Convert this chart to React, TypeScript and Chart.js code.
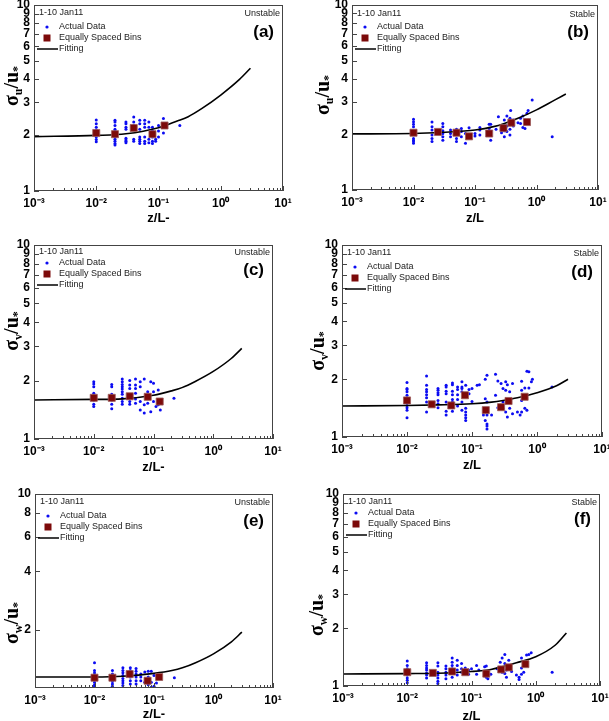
import React, { useEffect, useRef } from 'react';
import { Chart, registerables } from 'chart.js';
Chart.register(...registerables);

const xTickValues = [0.001, 0.01, 0.1, 1, 10];
const xTickLabels = ['10⁻³', '10⁻²', '10⁻¹', '10⁰', '10¹'];
const yTicksFull = [1, 2, 3, 4, 5, 6, 7, 8, 9, 10];
const yTicksEven = [2, 4, 6, 8, 10];
const legendLabels = ['Actual Data', 'Equally Spaced Bins', 'Fitting'];
const periodLabel = '1-10 Jan11';

const fitX = [0.001, 0.01, 0.03, 0.1, 0.2, 0.3, 0.5, 1, 2, 3];

// (a) sigma_u / u*, unstable
const aActual: [number, number[]][] = [
  [0.01, [2.41, 2.30, 2.20, 2.13, 1.95, 1.89, 1.84]],
  [0.02, [2.40, 2.35, 2.25, 2.15, 2.10, 1.95, 1.90, 1.85, 1.80, 1.77]],
  [0.03, [2.35, 2.30, 2.20, 2.15, 1.92, 1.88, 1.85, 1.82]],
  [0.04, [2.50, 2.35, 2.25, 1.90, 1.85]],
  [0.05, [2.40, 2.30, 2.15, 1.95, 1.90, 1.85, 1.80]],
  [0.06, [2.40, 2.30, 2.20, 1.95, 1.85, 1.80]],
  [0.07, [2.35, 2.20, 1.90, 1.82]],
  [0.08, [2.20, 2.10, 1.95, 1.85, 1.80]],
  [0.09, [1.90, 1.85]],
  [0.1, [2.25, 2.10, 1.95]],
  [0.12, [2.45, 2.30, 2.05]],
  [0.22, [2.25]],
];
const aBinsX = [0.01, 0.02, 0.04, 0.08, 0.125];
const aBinsY = [2.05, 2.02, 2.18, 2.02, 2.25];
const aFitY = [1.96, 1.99, 2.03, 2.19, 2.38, 2.51, 2.78, 3.28, 3.98, 4.57];

// (b) sigma_u / u*, stable
const bActual: [number, number[]][] = [
  [0.01, [2.41, 2.34, 2.27, 2.20, 1.90, 1.86, 1.83, 1.79]],
  [0.02, [2.33, 2.20, 2.11, 1.98, 1.90, 1.83]],
  [0.03, [2.29, 2.20, 2.09, 2.02, 1.94, 1.86]],
  [0.04, [2.11, 2.02, 1.94]],
  [0.05, [2.13, 2.07, 1.90, 1.83]],
  [0.06, [2.15, 2.07, 1.94]],
  [0.07, [2.02, 1.79]],
  [0.08, [2.17, 1.93]],
  [0.1, [2.02, 1.96]],
  [0.12, [2.18, 2.11, 1.98]],
  [0.17, [2.27, 2.15, 2.04, 1.98]],
  [0.18, [2.27, 1.86]],
  [0.22, [2.13]],
  [0.24, [2.49]],
  [0.27, [2.11, 2.04]],
  [0.3, [2.39, 2.24, 2.09, 1.94]],
  [0.33, [2.51, 2.22, 2.07]],
  [0.37, [2.44, 2.27, 2.13, 1.98]],
  [0.38, [2.69]],
  [0.42, [2.39, 2.22]],
  [0.5, [2.31]],
  [0.55, [2.44, 2.29]],
  [0.6, [2.51, 2.18]],
  [0.65, [2.39, 2.15]],
  [0.7, [2.60]],
  [0.73, [2.69, 2.39]],
  [0.85, [3.07]],
  [1.8, [1.94]],
];
const bBinsX = [0.01, 0.025, 0.05, 0.08, 0.17, 0.29, 0.39, 0.70];
const bBinsY = [2.04, 2.06, 2.04, 1.95, 2.02, 2.16, 2.31, 2.33];
const bFitY = [2.01, 2.02, 2.05, 2.11, 2.20, 2.29, 2.44, 2.71, 3.07, 3.30];

// (c) sigma_v / u*, unstable
const cActual: [number, number[]][] = [
  [0.01, [1.97, 1.92, 1.86, 1.72, 1.59, 1.51, 1.47]],
  [0.02, [1.91, 1.86, 1.70, 1.59, 1.51, 1.43]],
  [0.03, [2.04, 1.97, 1.91, 1.86, 1.81, 1.75, 1.70, 1.62, 1.56, 1.51]],
  [0.04, [2.00, 1.90, 1.82, 1.56, 1.51]],
  [0.05, [2.04, 1.90, 1.82, 1.72, 1.61, 1.53]],
  [0.06, [1.97, 1.86, 1.56, 1.41]],
  [0.07, [2.04, 1.50, 1.36]],
  [0.08, [1.75, 1.53]],
  [0.09, [1.97, 1.38]],
  [0.1, [1.94, 1.75, 1.56]],
  [0.11, [1.47]],
  [0.12, [1.79, 1.50]],
  [0.13, [1.41]],
  [0.22, [1.62]],
];
const cBinsX = [0.01, 0.02, 0.04, 0.08, 0.127];
const cBinsY = [1.63, 1.63, 1.66, 1.65, 1.56];
const cFitY = [1.59, 1.60, 1.61, 1.68, 1.77, 1.84, 1.98, 2.23, 2.60, 2.93];

// (d) sigma_v / u*, stable
const dActual: [number, number[]][] = [
  [0.01, [1.92, 1.79, 1.77, 1.72, 1.65, 1.52, 1.46, 1.42, 1.38, 1.26]],
  [0.02, [2.08, 1.86, 1.77, 1.72, 1.66, 1.60, 1.52, 1.35]],
  [0.03, [1.79, 1.75, 1.70, 1.66, 1.55, 1.49, 1.42]],
  [0.04, [1.86, 1.82, 1.73, 1.68, 1.52, 1.36, 1.30]],
  [0.05, [1.91, 1.87, 1.73, 1.66, 1.57, 1.52, 1.42, 1.36]],
  [0.06, [1.82, 1.77, 1.66, 1.57, 1.45]],
  [0.07, [1.94, 1.82, 1.79, 1.72, 1.52, 1.38]],
  [0.08, [1.86, 1.41, 1.35, 1.30, 1.26, 1.22]],
  [0.09, [1.77, 1.68]],
  [0.1, [1.79, 1.53]],
  [0.12, [1.86]],
  [0.13, [1.87]],
  [0.15, [1.30]],
  [0.16, [2.00, 1.58, 1.22]],
  [0.17, [2.10, 1.52, 1.30, 1.17, 1.14, 1.10]],
  [0.2, [1.30]],
  [0.23, [2.12, 1.65]],
  [0.25, [1.96, 1.42]],
  [0.28, [1.90]],
  [0.3, [1.79, 1.52, 1.41]],
  [0.33, [1.94, 1.75, 1.35]],
  [0.35, [1.87, 1.27]],
  [0.38, [1.72, 1.41]],
  [0.42, [1.90, 1.32]],
  [0.5, [1.35]],
  [0.55, [1.30]],
  [0.58, [1.95, 1.75, 1.55, 1.35]],
  [0.65, [1.80, 1.41]],
  [0.7, [2.20, 1.38]],
  [0.75, [2.19, 1.80]],
  [0.82, [1.94]],
  [0.85, [2.00]],
  [1.7, [1.82]],
];
const dBinsX = [0.01, 0.024, 0.048, 0.078, 0.163, 0.28, 0.365, 0.645];
const dBinsY = [1.55, 1.48, 1.46, 1.65, 1.38, 1.43, 1.54, 1.62];
const dFitY = [1.45, 1.46, 1.47, 1.49, 1.52, 1.55, 1.60, 1.70, 1.85, 2.00];

// (e) sigma_w / u*, unstable
const eActual: [number, number[]][] = [
  [0.01, [1.35, 1.23, 1.20, 1.16, 1.07, 1.04, 1.02]],
  [0.02, [1.23, 1.18, 1.16, 1.11, 1.08, 1.05, 1.02]],
  [0.03, [1.27, 1.23, 1.20, 1.16, 1.12, 1.09, 1.06, 1.03]],
  [0.04, [1.27, 1.23, 1.17, 1.14, 1.09, 1.05]],
  [0.05, [1.26, 1.22, 1.18, 1.14, 1.09, 1.05]],
  [0.06, [1.18, 1.14, 1.09]],
  [0.07, [1.21, 1.07]],
  [0.08, [1.22, 1.14, 1.04]],
  [0.09, [1.22, 1.07, 1.01]],
  [0.1, [1.16, 1.02]],
  [0.11, [1.06]],
  [0.22, [1.13]],
];
const eBinsX = [0.01, 0.02, 0.039, 0.078, 0.122];
const eBinsY = [1.13, 1.13, 1.18, 1.09, 1.14];
const eFitY = [1.14, 1.14, 1.15, 1.19, 1.23, 1.27, 1.35, 1.50, 1.73, 1.94];

// (f) sigma_w / u*, stable
const fActual: [number, number[]][] = [
  [0.01, [1.35, 1.28, 1.23, 1.14, 1.10, 1.07, 1.04]],
  [0.02, [1.32, 1.28, 1.24, 1.21, 1.17, 1.14, 1.10]],
  [0.03, [1.32, 1.27, 1.18, 1.14, 1.10, 1.06, 1.03]],
  [0.04, [1.27, 1.23, 1.18, 1.14, 1.09]],
  [0.05, [1.40, 1.33, 1.28, 1.23, 1.16, 1.11]],
  [0.06, [1.36, 1.28, 1.21, 1.14]],
  [0.07, [1.31, 1.23, 1.18]],
  [0.08, [1.24, 1.17]],
  [0.09, [1.21, 1.15]],
  [0.1, [1.23]],
  [0.12, [1.28, 1.15]],
  [0.13, [1.21]],
  [0.16, [1.26]],
  [0.17, [1.27, 1.11]],
  [0.18, [1.09]],
  [0.2, [1.15]],
  [0.25, [1.23]],
  [0.28, [1.33, 1.24]],
  [0.3, [1.40, 1.18]],
  [0.33, [1.46, 1.31, 1.16]],
  [0.35, [1.21, 1.11]],
  [0.38, [1.36, 1.28]],
  [0.42, [1.19]],
  [0.5, [1.14]],
  [0.55, [1.11, 1.08]],
  [0.6, [1.40, 1.24, 1.15]],
  [0.65, [1.32, 1.18]],
  [0.72, [1.45]],
  [0.78, [1.46]],
  [0.85, [1.49]],
  [1.8, [1.18]],
];
const fBinsX = [0.01, 0.025, 0.05, 0.08, 0.17, 0.29, 0.38, 0.69];
const fBinsY = [1.18, 1.17, 1.19, 1.18, 1.16, 1.22, 1.25, 1.30];
const fFitY = [1.155, 1.16, 1.165, 1.19, 1.22, 1.26, 1.32, 1.42, 1.63, 1.89];

type PanelSpec = {
  letter: string;
  sub: string;
  stability: string;
  xTitle: string;
  actual: [number, number[]][];
  binsX: number[];
  binsY: number[];
  fitY: number[];
  yTicks: number[];
  // layout
  left: number; top: number; W: number; H: number;
  L: number; R: number; T: number; B: number;
  yTitleX: number; yTitleY: number; xTitleY: number; legendDy: number; periodDy: number;
};

const panels: PanelSpec[] = [
  { letter: 'a', sub: 'u', stability: 'Unstable', xTitle: 'z/L-', actual: aActual, binsX: aBinsX, binsY: aBinsY, fitY: aFitY, yTicks: yTicksFull,
    left: 0, top: 0, W: 305, H: 235, L: 34, R: 283, T: 5, B: 191, yTitleX: 12, yTitleY: 86, xTitleY: 218, legendDy: 0, periodDy: 0 },
  { letter: 'b', sub: 'u', stability: 'Stable', xTitle: 'z/L', actual: bActual, binsX: bBinsX, binsY: bBinsY, fitY: bFitY, yTicks: yTicksFull,
    left: 305, top: 0, W: 304, H: 235, L: 47, R: 293, T: 5, B: 190, yTitleX: 18, yTitleY: 95, xTitleY: 218, legendDy: 0, periodDy: 1 },
  { letter: 'c', sub: 'v', stability: 'Unstable', xTitle: 'z/L-', actual: cActual, binsX: cBinsX, binsY: cBinsY, fitY: cFitY, yTicks: yTicksFull,
    left: 0, top: 235, W: 305, H: 240, L: 34, R: 273, T: 10, B: 204, yTitleX: 12, yTitleY: 96, xTitleY: 232, legendDy: -4, periodDy: -1 },
  { letter: 'd', sub: 'v', stability: 'Stable', xTitle: 'z/L', actual: dActual, binsX: dBinsX, binsY: dBinsY, fitY: dFitY, yTicks: yTicksFull,
    left: 305, top: 235, W: 304, H: 240, L: 37, R: 297, T: 10, B: 202, yTitleX: 13, yTitleY: 116, xTitleY: 230, legendDy: 0, periodDy: 0 },
  { letter: 'e', sub: 'w', stability: 'Unstable', xTitle: 'z/L-', actual: eActual, binsX: eBinsX, binsY: eBinsY, fitY: eFitY, yTicks: yTicksEven,
    left: 0, top: 475, W: 305, H: 246, L: 35, R: 273, T: 19, B: 213, yTitleX: 12, yTitleY: 148, xTitleY: 239, legendDy: 0, periodDy: 0 },
  { letter: 'f', sub: 'w', stability: 'Stable', xTitle: 'z/L', actual: fActual, binsX: fBinsX, binsY: fBinsY, fitY: fFitY, yTicks: yTicksFull,
    left: 305, top: 475, W: 304, H: 246, L: 38, R: 295, T: 19, B: 211, yTitleX: 12, yTitleY: 140, xTitleY: 241, legendDy: -3, periodDy: 0 },
];

const SANS = '"Liberation Sans", Arial, Helvetica, sans-serif';
const SERIF = '"Liberation Serif", "Times New Roman", serif';
const BLUE = '#0b0bf2';
const MAROON = '#7c0a0a';

const decorPlugin = {
  id: 'decor',
  afterDraw(chart: any, _args: any, o: any) {
    const { ctx, chartArea } = chart;
    const { left, right, top, bottom } = chartArea;
    const xs = chart.scales.x;
    const ys = chart.scales.y;
    ctx.save();
    // frame
    ctx.strokeStyle = '#444';
    ctx.lineWidth = 1;
    ctx.strokeRect(left + 0.5, top + 0.5, right - left - 1, bottom - top - 1);
    // inward ticks
    ctx.beginPath();
    xTickValues.forEach((base, i) => {
      const p = Math.round(xs.getPixelForValue(base)) + 0.5;
      ctx.moveTo(p, bottom); ctx.lineTo(p, bottom - 5);
      if (i < xTickValues.length - 1) {
        for (let k = 2; k < 10; k++) {
          const q = Math.round(xs.getPixelForValue(k * base)) + 0.5;
          ctx.moveTo(q, bottom); ctx.lineTo(q, bottom - 3);
        }
      }
    });
    (o.yTicks as number[]).forEach((v) => {
      const p = Math.round(ys.getPixelForValue(v)) + 0.5;
      ctx.moveTo(left, p); ctx.lineTo(left + 5, p);
    });
    ctx.stroke();

    // legend
    const dy = o.legendDy;
    ctx.fillStyle = '#222';
    ctx.textBaseline = 'middle';
    ctx.font = `9px ${SANS}`;
    ctx.textAlign = 'left';
    ctx.fillText(periodLabel, left + 5, top + 8 + o.periodDy);
    ctx.textAlign = 'right';
    ctx.fillText(o.stability, right - 3, top + 9 + o.periodDy);
    ctx.font = `bold 17px ${SANS}`;
    ctx.fillStyle = '#000';
    ctx.fillText(`(${o.letter})`, right - 9, top + 27 + dy / 2);

    ctx.textAlign = 'left';
    ctx.font = `9px ${SANS}`;
    const lx = left + 13;
    const tx = left + 25;
    const y1 = top + 22 + dy, y2 = top + 33 + dy, y3 = top + 44 + dy;
    ctx.fillStyle = BLUE;
    ctx.beginPath(); ctx.arc(lx, y1, 1.6, 0, Math.PI * 2); ctx.fill();
    ctx.fillStyle = MAROON;
    ctx.fillRect(lx - 3.5, y2 - 3.5, 7, 7);
    ctx.strokeStyle = '#000';
    ctx.lineWidth = 1.5;
    ctx.beginPath(); ctx.moveTo(left + 3, y3); ctx.lineTo(tx - 1, y3); ctx.stroke();
    ctx.fillStyle = '#222';
    ctx.fillText(legendLabels[0], tx, y1);
    ctx.fillText(legendLabels[1], tx, y2);
    ctx.fillText(legendLabels[2], tx, y3);

    // x title
    ctx.fillStyle = '#000';
    ctx.textAlign = 'center';
    ctx.font = `bold 13px ${SANS}`;
    ctx.fillText(o.xTitle, (left + right) / 2, o.xTitleY);

    // y title (rotated)
    ctx.save();
    ctx.translate(o.yTitleX, o.yTitleY);
    ctx.rotate(-Math.PI / 2);
    ctx.textAlign = 'left';
    ctx.textBaseline = 'alphabetic';
    const big = `bold 20px ${SERIF}`;
    const small = `bold 12px ${SERIF}`;
    const parts = [
      { t: 'σ', f: big, dy: 0 },
      { t: o.sub, f: small, dy: 4 },
      { t: '/u', f: big, dy: 0 },
      { t: '*', f: small, dy: 3 },
    ];
    let total = 0;
    parts.forEach((p) => { ctx.font = p.f; total += ctx.measureText(p.t).width; });
    let x = -total / 2;
    parts.forEach((p) => {
      ctx.font = p.f;
      ctx.fillText(p.t, x, 6 + p.dy);
      x += ctx.measureText(p.t).width;
    });
    ctx.restore();
    ctx.restore();
  },
};

function buildConfig(p: PanelSpec): any {
  const actualPts = p.actual.flatMap(([x, ys]) => ys.map((y) => ({ x, y })));
  const binPts = p.binsX.map((x, i) => ({ x, y: p.binsY[i] }));
  const fitPts = fitX.map((x, i) => ({ x, y: p.fitY[i] }));
  return {
    type: 'scatter',
    data: {
      datasets: [
        {
          label: legendLabels[1], data: binPts, pointStyle: 'rect', pointRadius: 5,
          backgroundColor: MAROON, borderColor: '#9c5a5a', borderWidth: 0.8, order: 1,
        },
        {
          label: legendLabels[2], type: 'line', data: fitPts, showLine: true, borderColor: '#000',
          borderWidth: 1.6, pointRadius: 0, cubicInterpolationMode: 'monotone', fill: false, order: 2,
        },
        {
          label: legendLabels[0], data: actualPts, pointStyle: 'circle', pointRadius: 1.5,
          backgroundColor: BLUE, borderWidth: 0, order: 3,
        },
      ],
    },
    options: {
      responsive: false,
      animation: false,
      events: [],
      layout: { autoPadding: false, padding: { top: p.T, right: p.W - p.R, left: 0, bottom: 0 } },
      plugins: {
        legend: { display: false },
        tooltip: { enabled: false },
        decor: {
          letter: p.letter, sub: p.sub, stability: p.stability, xTitle: p.xTitle, yTicks: p.yTicks,
          yTitleX: p.yTitleX, yTitleY: p.yTitleY, xTitleY: p.xTitleY, legendDy: p.legendDy, periodDy: p.periodDy,
        },
      },
      scales: {
        x: {
          type: 'logarithmic', position: 'bottom', min: 0.001, max: 10,
          afterBuildTicks: (s: any) => { s.ticks = xTickValues.map((v) => ({ value: v, major: true })); },
          afterFit: (s: any) => { s.height = p.H - p.B; s.paddingLeft = 0; s.paddingRight = 0; },
          ticks: {
            autoSkip: false, maxRotation: 0, minRotation: 0, padding: 5, color: '#000',
            font: { family: SANS, size: 12, weight: 'bold' },
            callback: (_v: any, i: number) => xTickLabels[i],
          },
          grid: { display: false, drawTicks: false },
          border: { display: false },
        },
        y: {
          type: 'logarithmic', position: 'left', min: 1, max: 10,
          afterBuildTicks: (s: any) => { s.ticks = p.yTicks.map((v) => ({ value: v, major: true })); },
          afterFit: (s: any) => { s.width = p.L; s.paddingTop = 0; s.paddingBottom = 0; },
          ticks: {
            autoSkip: false, padding: 4, color: '#000',
            font: { family: SANS, size: 12, weight: 'bold' },
            callback: (v: any) => String(v),
          },
          grid: { display: false, drawTicks: false },
          border: { display: false },
        },
      },
    },
    plugins: [decorPlugin],
  };
}

function Panel({ spec }: { spec: PanelSpec }) {
  const ref = useRef<HTMLCanvasElement>(null);
  useEffect(() => {
    const chart = new Chart(ref.current as HTMLCanvasElement, buildConfig(spec));
    return () => chart.destroy();
  }, [spec]);
  return (
    <canvas
      ref={ref}
      width={spec.W}
      height={spec.H}
      style={{ position: 'absolute', left: spec.left, top: spec.top, width: spec.W, height: spec.H }}
    />
  );
}

export default function App() {
  return (
    <div style={{ position: 'absolute', left: 0, top: 0, width: 609, height: 721, background: '#fff', overflow: 'hidden' }}>
      {panels.map((p) => (
        <Panel key={p.letter} spec={p} />
      ))}
    </div>
  );
}
